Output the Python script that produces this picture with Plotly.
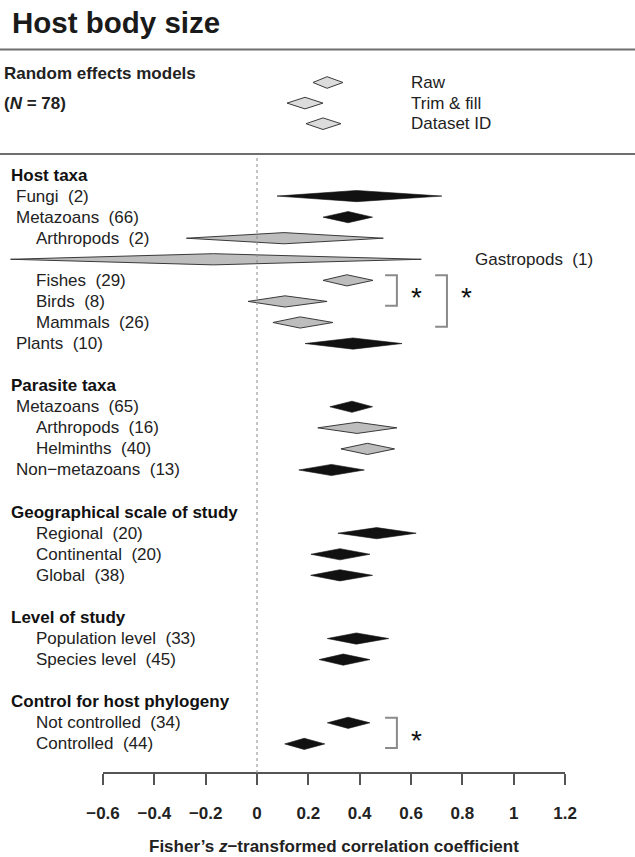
import plotly.graph_objects as go

# ---------------- data ----------------
model_names = ["Raw", "Trim & fill", "Dataset ID"]
model_est = [0.273, 0.187, 0.257]
model_lo = [0.218, 0.117, 0.191]
model_hi = [0.335, 0.257, 0.327]
n_total = 78

mod_labels = ["Host taxa", "Fungi", "Metazoans", "Arthropods", "Gastropods", "Fishes", "Birds",
              "Mammals", "Plants", "",
              "Parasite taxa", "Metazoans", "Arthropods", "Helminths", "Non\u2212metazoans", "",
              "Geographical scale of study", "Regional", "Continental", "Global", "",
              "Level of study", "Population level", "Species level", "",
              "Control for host phylogeny", "Not controlled", "Controlled"]
mod_k = [None, 2, 66, 2, 1, 29, 8, 26, 10, None,
         None, 65, 16, 40, 13, None,
         None, 20, 20, 38, None,
         None, 33, 45, None,
         None, 34, 44]
mod_est = [None, 0.388, 0.355, 0.105, -0.17, 0.350, 0.109, 0.168, 0.374, None,
           None, 0.370, 0.390, 0.430, 0.290, None,
           None, 0.466, 0.323, 0.323, None,
           None, 0.387, 0.336, None,
           None, 0.355, 0.184]
mod_lo = [None, 0.078, 0.257, -0.275, -0.96, 0.257, -0.035, 0.062, 0.187, None,
          None, 0.284, 0.237, 0.327, 0.163, None,
          None, 0.315, 0.210, 0.209, None,
          None, 0.274, 0.242, None,
          None, 0.274, 0.108]
mod_hi = [None, 0.720, 0.450, 0.492, 0.640, 0.452, 0.273, 0.296, 0.565, None,
          None, 0.450, 0.545, 0.536, 0.418, None,
          None, 0.620, 0.440, 0.450, None,
          None, 0.513, 0.440, None,
          None, 0.440, 0.264]
# hierarchy: 0 = moderator heading, 1 = group, 2 = sub-group / level
mod_depth = [0, 1, 1, 2, 2, 2, 2, 2, 1, None,
             0, 1, 2, 2, 1, None,
             0, 2, 2, 2, None,
             0, 2, 2, None,
             0, 2, 2]
# nested taxonomic sub-groups (drawn in grey)
mod_nested = [False, False, False, True, True, True, True, True, False, False,
              False, False, True, True, False, False,
              False, False, False, False, False,
              False, False, False, False,
              False, False, False]
# significant pairwise differences (row indices into the moderator table)
contrasts = [(5, 6), (5, 7), (26, 27)]
contrast_labels = ["*", "*", "*"]

axis_ticks = [-0.6, -0.4, -0.2, 0, 0.2, 0.4, 0.6, 0.8, 1, 1.2]
axis_tick_labels = ["\u22120.6", "\u22120.4", "\u22120.2", "0", "0.2", "0.4", "0.6", "0.8", "1", "1.2"]

title_text = "Host body size"
xaxis_title = "<b>Fisher\u2019s <i>z</i>\u2212transformed correlation coefficient</b>"

# ---------------- layout constants ----------------
W, H = 635, 857
X0_PX, X_SCALE = 257.0, 256.7          # pixel of value 0, pixels per unit
ROW0_PX, ROW_PX = 175.0, 21.07         # pixel of first moderator row, row step
AXIS_PX = 773.0
FONT = "Liberation Sans, Arial, Helvetica, sans-serif"
TXT = "#222222"
BLACK = "#111111"
GREY = "#bdbdbd"
EDGE = "#3a3a3a"
HALF_H = 5.6 / ROW_PX


def px_to_row(p):
    return (p - ROW0_PX) / ROW_PX


x_range = [(0 - X0_PX) / X_SCALE, (W - X0_PX) / X_SCALE]
y_range = [px_to_row(H), px_to_row(0)]


def diamond(lo, est, hi, yc, h):
    return [lo, est, hi, est, lo, None], [yc, yc - h, yc, yc + h, yc, None]


fig = go.Figure()
annotations = []
shapes = []

# ---- top: overall random-effects models ----
top_rows = [px_to_row(82.5 + i * 20.6) for i in range(len(model_names))]
xs, ys = [], []
for lo, est, hi, r in zip(model_lo, model_est, model_hi, top_rows):
    dx, dy = diamond(lo, est, hi, r, 5.8 / ROW_PX)
    xs += dx
    ys += dy
fig.add_trace(go.Scatter(x=xs, y=ys, mode="lines", fill="toself", fillcolor="#dcdcdc",
                         line=dict(color=EDGE, width=1), hoverinfo="skip", showlegend=False))
for name, r in zip(model_names, top_rows):
    annotations.append(dict(x=409 / W, xref="paper", y=r, yref="y", text=name, showarrow=False,
                            xanchor="left", yanchor="middle",
                            font=dict(family=FONT, size=17, color=TXT)))
annotations.append(dict(x=2 / W, xref="paper", y=px_to_row(73), yref="y",
                        text="<b>Random effects models</b>", showarrow=False,
                        xanchor="left", yanchor="middle", font=dict(family=FONT, size=17, color=TXT)))
annotations.append(dict(x=2 / W, xref="paper", y=px_to_row(103), yref="y",
                        text=f"<b>(<i>N</i> = {n_total})</b>", showarrow=False,
                        xanchor="left", yanchor="middle", font=dict(family=FONT, size=17, color=TXT)))

# ---- moderators ----
indent_px = {0: 9, 1: 14, 2: 34}
bx, by, gx, gy = [], [], [], []
for i, (lab, k, est, lo, hi, d, nest) in enumerate(
        zip(mod_labels, mod_k, mod_est, mod_lo, mod_hi, mod_depth, mod_nested)):
    if d is None:
        continue
    if d == 0:
        annotations.append(dict(x=indent_px[0] / W, xref="paper", y=i, yref="y",
                                text=f"<b>{lab}</b>", showarrow=False, xanchor="left",
                                yanchor="middle", font=dict(family=FONT, size=17, color="#111")))
        continue
    dx, dy = diamond(lo, est, hi, i, HALF_H)
    if nest:
        gx += dx
        gy += dy
    else:
        bx += dx
        by += dy
    label = f"{lab}\u00a0\u00a0({k})"
    # a group whose interval runs through the label column gets its label on the right
    if (X0_PX + lo * X_SCALE) < 120:
        lx = 473
    else:
        lx = indent_px[d]
    annotations.append(dict(x=lx / W, xref="paper", y=i, yref="y", text=label, showarrow=False,
                            xanchor="left", yanchor="middle",
                            font=dict(family=FONT, size=17, color=TXT)))

fig.add_trace(go.Scatter(x=bx, y=by, mode="lines", fill="toself", fillcolor=BLACK,
                         line=dict(color=BLACK, width=0.6), hoverinfo="skip", showlegend=False))
fig.add_trace(go.Scatter(x=gx, y=gy, mode="lines", fill="toself", fillcolor=GREY,
                         line=dict(color=EDGE, width=1), hoverinfo="skip", showlegend=False))

# ---- significance brackets ----
bracket_x = [0.545, 0.740]
levels = []
for j, (a, b) in enumerate(contrasts):
    lev = sum(1 for (a2, b2) in contrasts[:j] if not (b2 < a or a2 > b))
    levels.append(lev)
for (a, b), lev, sig in zip(contrasts, levels, contrast_labels):
    xv = bracket_x[lev]
    xt = xv - 0.046
    ya, yb = a - 0.24, b + 0.2
    shapes.append(dict(type="path", xref="x", yref="y",
                       path=f"M {xt},{ya} L {xv},{ya} L {xv},{yb} L {xt},{yb}",
                       line=dict(color="#8a8a8a", width=2)))
    annotations.append(dict(x=xv + 0.077, xref="x", y=a + 0.5, yref="y", text=sig,
                            showarrow=False, xanchor="center", yanchor="middle", yshift=-7,
                            font=dict(family=FONT, size=28, color="#111")))

# ---- separators, reference line ----
for p in (49.5, 154):
    shapes.append(dict(type="line", xref="paper", yref="paper", x0=0, x1=1,
                       y0=1 - p / H, y1=1 - p / H, line=dict(color="#6e6e6e", width=2)))
shapes.append(dict(type="line", xref="x", yref="paper", x0=0, x1=0,
                   y0=1 - AXIS_PX / H, y1=1 - 156 / H,
                   line=dict(color="#8a8a8a", width=1, dash="dot")))

# title
annotations.append(dict(x=10 / W, xref="paper", y=1 - 23 / H, yref="paper",
                        text=f"<b>{title_text}</b>", showarrow=False, xanchor="left",
                        yanchor="middle", font=dict(family=FONT, size=29.5, color="#1a1a1a")))
# x-axis title
annotations.append(dict(x=(X0_PX + 0.3 * X_SCALE) / W, xref="paper", y=1 - 846.5 / H, yref="paper",
                        text=xaxis_title, showarrow=False, xanchor="center", yanchor="middle",
                        font=dict(family=FONT, size=17, color=TXT)))

# invisible trace to host the drawn axis
fig.add_trace(go.Scatter(x=[axis_ticks[0], axis_ticks[-1]], y=[0, 0], xaxis="x2", yaxis="y",
                         mode="lines", line=dict(width=0), opacity=0, hoverinfo="skip",
                         showlegend=False))

fig.update_layout(
    template="none",
    width=W, height=H, margin=dict(l=0, r=0, t=0, b=0, pad=0, autoexpand=False),
    paper_bgcolor="white", plot_bgcolor="rgba(0,0,0,0)", showlegend=False,
    xaxis=dict(range=x_range, visible=False, fixedrange=True, automargin=False),
    yaxis=dict(range=y_range, visible=False, fixedrange=True, automargin=False),
    xaxis2=dict(domain=[(X0_PX + axis_ticks[0] * X_SCALE) / W, (X0_PX + axis_ticks[-1] * X_SCALE) / W],
                range=[axis_ticks[0], axis_ticks[-1]], anchor="free", position=1 - AXIS_PX / H,
                showline=True, linecolor="#555", linewidth=2, ticks="outside", ticklen=11,
                tickwidth=2, tickcolor="#555", tickmode="array", tickvals=axis_ticks,
                ticktext=axis_tick_labels, showgrid=False, zeroline=False, fixedrange=True,
                ticklabelstandoff=14, automargin=False,
                tickfont=dict(family=FONT, size=17, color=TXT, weight="bold")),
    annotations=annotations, shapes=shapes,
)

fig.write_html("out.html")
